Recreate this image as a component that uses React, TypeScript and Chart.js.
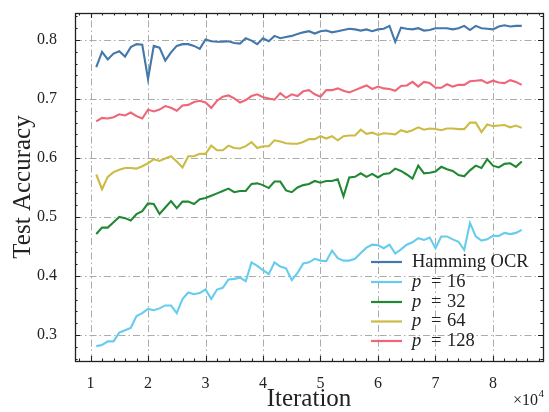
import React, { useEffect, useRef } from "react";
import { Chart, registerables } from "chart.js";

Chart.register(...registerables);

// ---------------- data ----------------
const iterations = [
  11000, 12000, 13000, 14000, 15000, 16000, 17000, 18000, 19000, 20000,
  21000, 22000, 23000, 24000, 25000, 26000, 27000, 28000, 29000, 30000,
  31000, 32000, 33000, 34000, 35000, 36000, 37000, 38000, 39000, 40000,
  41000, 42000, 43000, 44000, 45000, 46000, 47000, 48000, 49000, 50000,
  51000, 52000, 53000, 54000, 55000, 56000, 57000, 58000, 59000, 60000,
  61000, 62000, 63000, 64000, 65000, 66000, 67000, 68000, 69000, 70000,
  71000, 72000, 73000, 74000, 75000, 76000, 77000, 78000, 79000, 80000,
  81000, 82000, 83000, 84000, 85000,
];

const hammingOCR = [
  0.754, 0.780, 0.767, 0.777, 0.781, 0.772, 0.788, 0.793, 0.792, 0.734,
  0.790, 0.787, 0.765, 0.779, 0.790, 0.793, 0.793, 0.790, 0.785, 0.801,
  0.798, 0.797, 0.797, 0.798, 0.795, 0.794, 0.803, 0.799, 0.793, 0.803,
  0.798, 0.807, 0.803, 0.805, 0.807, 0.810, 0.813, 0.815,
  0.811, 0.815, 0.816, 0.813, 0.815, 0.817, 0.819, 0.818, 0.816, 0.818,
  0.815, 0.818, 0.819, 0.824, 0.797, 0.821, 0.819, 0.818, 0.820, 0.816,
  0.817, 0.820, 0.820, 0.820, 0.818, 0.820, 0.824, 0.817, 0.824, 0.820,
  0.819, 0.818, 0.823, 0.825, 0.823, 0.824, 0.824,
];

const p16 = [
  0.281, 0.283, 0.289, 0.289, 0.304, 0.308, 0.312, 0.332, 0.337, 0.344,
  0.342, 0.345, 0.350, 0.350, 0.337, 0.361, 0.372, 0.369, 0.371, 0.377,
  0.361, 0.377, 0.380, 0.394, 0.395, 0.397, 0.391, 0.423, 0.417, 0.410,
  0.403, 0.423, 0.416, 0.413,
  0.393, 0.405, 0.421, 0.423, 0.429, 0.426, 0.425, 0.443, 0.430, 0.426,
  0.426, 0.429, 0.439, 0.448, 0.453, 0.452, 0.447, 0.453,
  0.438, 0.445, 0.453, 0.457, 0.464, 0.461, 0.465, 0.447, 0.467, 0.467,
  0.462, 0.458, 0.444, 0.490, 0.467, 0.460, 0.462, 0.468, 0.468, 0.473,
  0.471, 0.473, 0.478,
];

const p32 = [
  0.471, 0.482, 0.482, 0.491, 0.500, 0.498, 0.494, 0.505, 0.510, 0.523,
  0.522, 0.505, 0.516, 0.527, 0.515, 0.526, 0.526, 0.522, 0.530, 0.532,
  0.536, 0.540, 0.544, 0.548, 0.542, 0.544, 0.544, 0.556, 0.557, 0.554,
  0.549, 0.560, 0.560, 0.545, 0.542, 0.550, 0.554, 0.556,
  0.561, 0.558, 0.561, 0.561, 0.564, 0.535, 0.567, 0.568, 0.574, 0.568,
  0.573, 0.567, 0.573, 0.574, 0.582, 0.578, 0.572, 0.565, 0.587, 0.574,
  0.575, 0.577, 0.585, 0.581, 0.578, 0.571, 0.569, 0.579, 0.587, 0.583,
  0.598, 0.587, 0.584, 0.590, 0.591, 0.585, 0.594,
];

const p64 = [
  0.572, 0.547, 0.568, 0.576, 0.580, 0.583, 0.583, 0.582, 0.586, 0.591,
  0.598, 0.595, 0.599, 0.603, 0.594, 0.584, 0.603, 0.603, 0.607, 0.607,
  0.621, 0.613, 0.613, 0.621, 0.617, 0.616, 0.620, 0.627, 0.617, 0.620,
  0.620, 0.630, 0.628, 0.625, 0.624, 0.624, 0.627, 0.632,
  0.632, 0.637, 0.633, 0.637, 0.630, 0.637, 0.638, 0.638, 0.648, 0.641,
  0.643, 0.639, 0.642, 0.641, 0.640, 0.647, 0.644, 0.647, 0.652, 0.648,
  0.650, 0.649, 0.647, 0.650, 0.650, 0.649, 0.649, 0.660, 0.660, 0.644,
  0.657, 0.654, 0.655, 0.656, 0.652, 0.655, 0.651,
];

const p128 = [
  0.662, 0.668, 0.667, 0.669, 0.674, 0.672, 0.677, 0.671, 0.667, 0.682,
  0.679, 0.682, 0.688, 0.685, 0.680, 0.689, 0.690, 0.695, 0.697, 0.694,
  0.685, 0.697, 0.704, 0.706, 0.701, 0.694, 0.698, 0.705, 0.708, 0.703,
  0.701, 0.699, 0.710, 0.702, 0.708, 0.705, 0.713, 0.715,
  0.708, 0.704, 0.715, 0.715, 0.718, 0.714, 0.711, 0.715, 0.719, 0.723,
  0.717, 0.721, 0.718, 0.717, 0.714, 0.722, 0.723, 0.729, 0.721, 0.729,
  0.727, 0.719, 0.719, 0.725, 0.721, 0.724, 0.724, 0.730, 0.731, 0.732,
  0.727, 0.731, 0.728, 0.727, 0.732, 0.729, 0.724,
];

const seriesLabels = ["Hamming OCR", "p = 16", "p = 32", "p = 64", "p = 128"];
const seriesColors = ["#4477AA", "#66CCEE", "#228833", "#CCBB44", "#EE6677"];
const seriesData = [hammingOCR, p16, p32, p64, p128];

const xMajorTicks = [10000, 20000, 30000, 40000, 50000, 60000, 70000, 80000];
const yMajorTicks = [0.3, 0.4, 0.5, 0.6, 0.7, 0.8];
const xMinorStep = 2000;
const yMinorStep = 0.02;
const xTickScale = 10000;

const X_MIN = 7300;
const X_MAX = 88700;
const Y_MIN = 0.2558;
const Y_MAX = 0.8458;

const xTitle = "Iteration";
const yTitle = "Test Accuracy";

// ---------------- style ----------------
const SERIF = "'Liberation Serif', 'DejaVu Serif', serif";
const INK = "#222222";

const decorPlugin = {
  id: "decor",
  beforeDatasetsDraw(chart: any) {
    const { ctx, chartArea, scales } = chart;
    const { left, right, top, bottom } = chartArea;
    const x = scales.x;
    const y = scales.y;
    ctx.save();
    ctx.strokeStyle = "#ababab";
    ctx.lineWidth = 1;
    ctx.setLineDash([7, 3, 1.5, 3]);
    for (const v of xMajorTicks) {
      const px = Math.round(x.getPixelForValue(v)) + 0.5;
      ctx.beginPath();
      ctx.moveTo(px, bottom);
      ctx.lineTo(px, top);
      ctx.stroke();
    }
    for (const v of yMajorTicks) {
      const py = Math.round(y.getPixelForValue(v)) + 0.5;
      ctx.beginPath();
      ctx.moveTo(left, py);
      ctx.lineTo(right, py);
      ctx.stroke();
    }
    ctx.restore();
  },
  afterDatasetsDraw(chart: any) {
    const { ctx, chartArea, scales } = chart;
    const { left, right, top, bottom } = chartArea;
    const x = scales.x;
    const y = scales.y;
    ctx.save();
    ctx.setLineDash([]);
    ctx.strokeStyle = INK;
    ctx.lineWidth = 1.1;

    const MAJ = 5;
    const MIN = 2.6;
    const xTick = (v: number, len: number) => {
      const px = Math.round(x.getPixelForValue(v)) + 0.5;
      if (px < left || px > right) return;
      ctx.beginPath();
      ctx.moveTo(px, bottom);
      ctx.lineTo(px, bottom - len);
      ctx.moveTo(px, top);
      ctx.lineTo(px, top + len);
      ctx.stroke();
    };
    const yTick = (v: number, len: number) => {
      const py = Math.round(y.getPixelForValue(v)) + 0.5;
      if (py < top || py > bottom) return;
      ctx.beginPath();
      ctx.moveTo(left, py);
      ctx.lineTo(left + len, py);
      ctx.moveTo(right, py);
      ctx.lineTo(right - len, py);
      ctx.stroke();
    };
    for (const v of xMajorTicks) xTick(v, MAJ);
    const xStart = Math.ceil(X_MIN / xMinorStep) * xMinorStep;
    for (let v = xStart; v <= X_MAX; v += xMinorStep) {
      if (!xMajorTicks.includes(v)) xTick(v, MIN);
    }
    for (const v of yMajorTicks) yTick(v, MAJ);
    const yStartIdx = Math.ceil(Y_MIN / yMinorStep - 1e-6);
    const yEndIdx = Math.floor(Y_MAX / yMinorStep + 1e-6);
    for (let i = yStartIdx; i <= yEndIdx; i++) {
      const v = i * yMinorStep;
      if (!yMajorTicks.some((m) => Math.abs(m - v) < 1e-6)) yTick(v, MIN);
    }

    // frame
    ctx.lineWidth = 1.3;
    ctx.strokeRect(Math.round(left) + 0.5, Math.round(top) + 0.5, Math.round(right - left), Math.round(bottom - top));

    // legend (lower right, no frame)
    const lx0 = 371;
    const lx1 = 402;
    const tx = 412;
    const rowY = [262, 282, 302, 321.5, 341];
    ctx.textBaseline = "middle";
    ctx.textAlign = "left";
    ctx.fillStyle = INK;
    seriesLabels.forEach((lab, i) => {
      const yy = rowY[i];
      ctx.strokeStyle = seriesColors[i];
      ctx.lineWidth = 2.2;
      ctx.beginPath();
      ctx.moveTo(lx0, yy);
      ctx.lineTo(lx1, yy);
      ctx.stroke();
      if (lab.startsWith("p = ")) {
        ctx.font = `italic 18.5px ${SERIF}`;
        ctx.fillText("p", tx, yy);
        ctx.font = `18.5px ${SERIF}`;
        ctx.fillText("=", tx + 19, yy);
        ctx.fillText(lab.slice(4), tx + 35, yy);
      } else {
        ctx.font = `18.5px ${SERIF}`;
        ctx.fillText(lab, tx, yy);
      }
    });

    // offset text ×10^4
    ctx.fillStyle = INK;
    ctx.textBaseline = "alphabetic";
    ctx.textAlign = "right";
    ctx.font = `11px ${SERIF}`;
    const sup = "4";
    const supW = ctx.measureText(sup).width;
    ctx.fillText(sup, 544, 397);
    ctx.font = `16px ${SERIF}`;
    ctx.fillText("\u00d710", 544 - supW - 0.5, 405);
    ctx.restore();
  },
};

export default function App() {
  const ref = useRef<HTMLCanvasElement>(null);

  useEffect(() => {
    const canvas = ref.current;
    if (!canvas) return;
    const datasets = seriesData.map((d, i) => ({
      label: seriesLabels[i],
      data: iterations.map((it, j) => ({ x: it, y: d[j] })),
      borderColor: seriesColors[i],
      backgroundColor: seriesColors[i],
      borderWidth: 2.1,
      pointRadius: 0,
      tension: 0,
      order: seriesLabels.length - i,
    }));

    const chart = new Chart(canvas, {
      type: "line",
      data: { datasets },
      options: {
        animation: false,
        responsive: false,
        devicePixelRatio: 1,
        layout: { padding: { top: 13, right: 6, left: 0, bottom: 0 } },
        plugins: {
          legend: { display: false },
          tooltip: { enabled: false },
        },
        scales: {
          x: {
            type: "linear",
            min: X_MIN,
            max: X_MAX,
            grid: { display: false },
            border: { display: false },
            afterBuildTicks: (s: any) => {
              s.ticks = xMajorTicks.map((value) => ({ value }));
            },
            afterFit: (s: any) => {
              s.height = 51;
              s.paddingLeft = 0;
              s.paddingRight = 0;
              s.paddingTop = 0;
              s.paddingBottom = 0;
            },
            ticks: {
              autoSkip: false,
              maxRotation: 0,
              padding: 5,
              color: INK,
              font: { family: SERIF, size: 16 },
              callback: (v: any) => String(Number(v) / xTickScale),
            },
            title: {
              display: true,
              text: xTitle,
              color: INK,
              font: { family: SERIF, size: 25, lineHeight: 1 },
              padding: { top: 0, bottom: 0 },
            },
          },
          y: {
            type: "linear",
            min: Y_MIN,
            max: Y_MAX,
            grid: { display: false },
            border: { display: false },
            afterBuildTicks: (s: any) => {
              s.ticks = yMajorTicks.map((value) => ({ value }));
            },
            afterFit: (s: any) => {
              s.width = 75;
              s.paddingLeft = 0;
              s.paddingRight = 0;
              s.paddingTop = 0;
              s.paddingBottom = 0;
            },
            ticks: {
              padding: 10,
              color: INK,
              font: { family: SERIF, size: 16 },
              callback: (v: any) => Number(v).toFixed(1),
            },
            title: {
              display: true,
              text: yTitle,
              color: INK,
              font: { family: SERIF, size: 25, lineHeight: 1 },
              padding: { top: 11, bottom: 0 },
            },
          },
        },
      },
      plugins: [decorPlugin],
    } as any);

    return () => chart.destroy();
  }, []);

  return (
    <div
      style={{
        position: "absolute",
        left: 0,
        top: 0,
        width: 549,
        height: 412,
        background: "#ffffff",
      }}
    >
      <canvas ref={ref} width={549} height={412} style={{ display: "block" }} />
    </div>
  );
}
